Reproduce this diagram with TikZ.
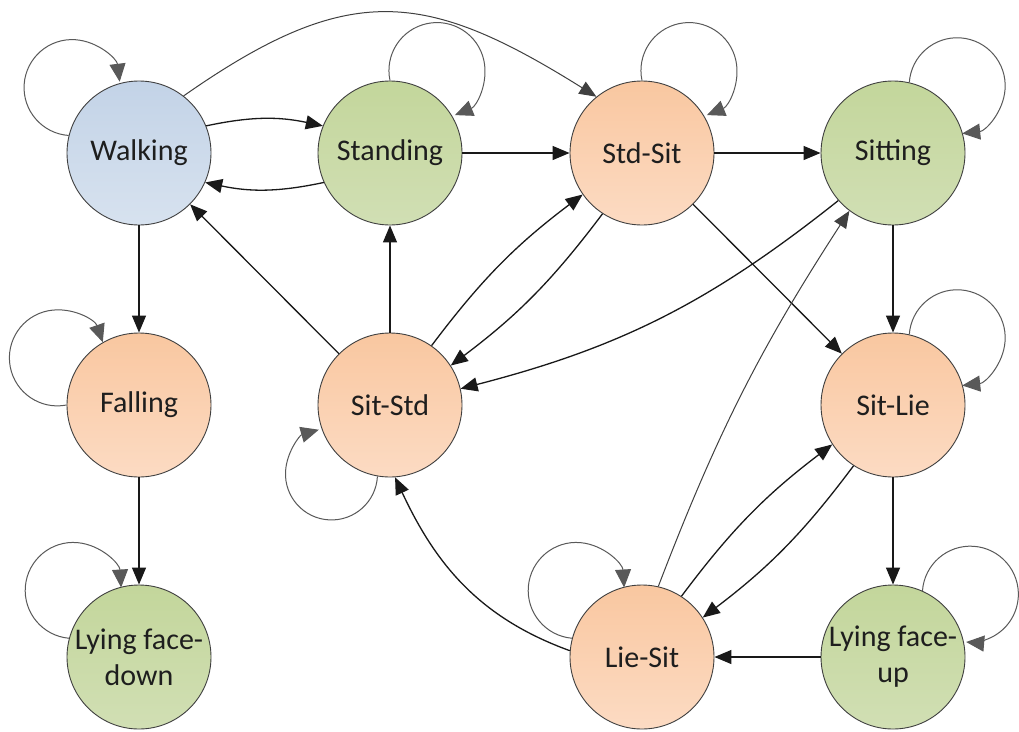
\documentclass[tikz,border=0pt]{standalone}
\usepackage{fontspec}
\setmainfont{Carlito}
\usetikzlibrary{arrows.meta}
\definecolor{blueA}{HTML}{C3D3E7}
\definecolor{blueB}{HTML}{D7E2EF}
\definecolor{greenA}{HTML}{C3D69B}
\definecolor{greenB}{HTML}{D1DFB4}
\definecolor{orangeA}{HTML}{F9C7A0}
\definecolor{orangeB}{HTML}{FCDBC3}
\definecolor{rim}{HTML}{3F3F3F}
\definecolor{ink}{HTML}{1E1E1E}
\begin{document}
\begin{tikzpicture}[x=1pt,y=1pt,
  state/.style={circle, minimum size=144pt, inner sep=0pt, draw=rim, line width=0.9pt,
    font=\fontsize{30}{36}\selectfont, text=ink, align=center},
  bluestate/.style={state, top color=blueA, bottom color=blueB},
  greenstate/.style={state, top color=greenA, bottom color=greenB},
  orangestate/.style={state, top color=orangeA, bottom color=orangeB},
  tip/.style={-{Triangle[length=17pt,width=14pt]}},
  looptip/.style={-{Triangle[length=18pt,width=16pt]}},
  move/.style={draw=black!90, line width=1.3pt, tip},
  curvemove/.style={draw=black!75, line width=1pt, tip},
  selfloop/.style={draw=black!65, line width=1pt, looptip}
]
\fill[white] (0,0) rectangle (1019,-731);
\useasboundingbox (0,0) rectangle (1019,-731);

% states
\node[bluestate]   (walk)   at (139,-153) {Walking};
\node[greenstate]  (stand)  at (390,-153) {Standing};
\node[orangestate] (stdsit) at (642,-153) {Std-Sit};
\node[greenstate]  (sit)    at (893,-153) {Sitting};
\node[orangestate] (fall)   at (139,-405) {Falling};
\node[orangestate] (sitstd) at (390,-405) {Sit-Std};
\node[orangestate] (sitlie) at (893,-405) {Sit-Lie};
\node[greenstate]  (down)   at (139,-657) {Lying face-\\down};
\node[orangestate] (liesit) at (642,-657) {Lie-Sit};
\node[greenstate]  (up)     at (893,-657) {Lying face-\\up};

% self transitions
\draw[selfloop] (walk.166)   arc[start angle=266, end angle=7,   radius=48];
\draw[selfloop] (stand.90)   arc[start angle=192, end angle=-68, radius=48];
\draw[selfloop] (stdsit.90)  arc[start angle=192, end angle=-68, radius=48];
\draw[selfloop] (sit.77)     arc[start angle=176, end angle=-84, radius=48];
\draw[selfloop] (sitlie.77)  arc[start angle=176, end angle=-84, radius=48];
\draw[selfloop] (up.66)      arc[start angle=176, end angle=-95, radius=48];
\draw[selfloop] (fall.180)   arc[start angle=281, end angle=19,  radius=48];
\draw[selfloop] (down.165)   arc[start angle=265, end angle=3.5, radius=48];
\draw[selfloop] (liesit.165) arc[start angle=265, end angle=3.5, radius=48];
\draw[selfloop] (sitstd.260) arc[start angle=357, end angle=106, radius=46];

% straight transitions
\draw[move] (walk) -- (fall);
\draw[move] (fall) -- (down);
\draw[move] (stand) -- (stdsit);
\draw[move] (stdsit) -- (sit);
\draw[move] (sitstd) -- (stand);
\draw[move] (sitstd) -- (walk);
\draw[move] (stdsit) -- (sitlie);
\draw[move] (sit) -- (sitlie);
\draw[move] (sitlie) -- (up);
\draw[move] (up) -- (liesit);

% curved transitions
\draw[move] (walk.22) to[bend left=12] (stand.158);
\draw[move] (stand.204) to[bend left=12] (walk.336);
\draw[curvemove] (walk.52) to[out=35, in=148, looseness=1.25] (stdsit.129);
\draw[move] (sitstd.55) to[bend left=8] (stdsit.215);
\draw[move] (stdsit.237) to[bend left=8] (sitstd.33);
\draw[move] (sit.221) to[bend left=12] (sitstd.13);
\draw[curvemove] (liesit.77) to[bend left=6] (sit.233);
\draw[move] (liesit.57) to[bend left=8] (sitlie.213);
\draw[move] (sitlie.237) to[bend left=8] (liesit.33);
\draw[move] (liesit.175) to[out=160, in=-65] (sitstd.274);
\end{tikzpicture}
\end{document}
